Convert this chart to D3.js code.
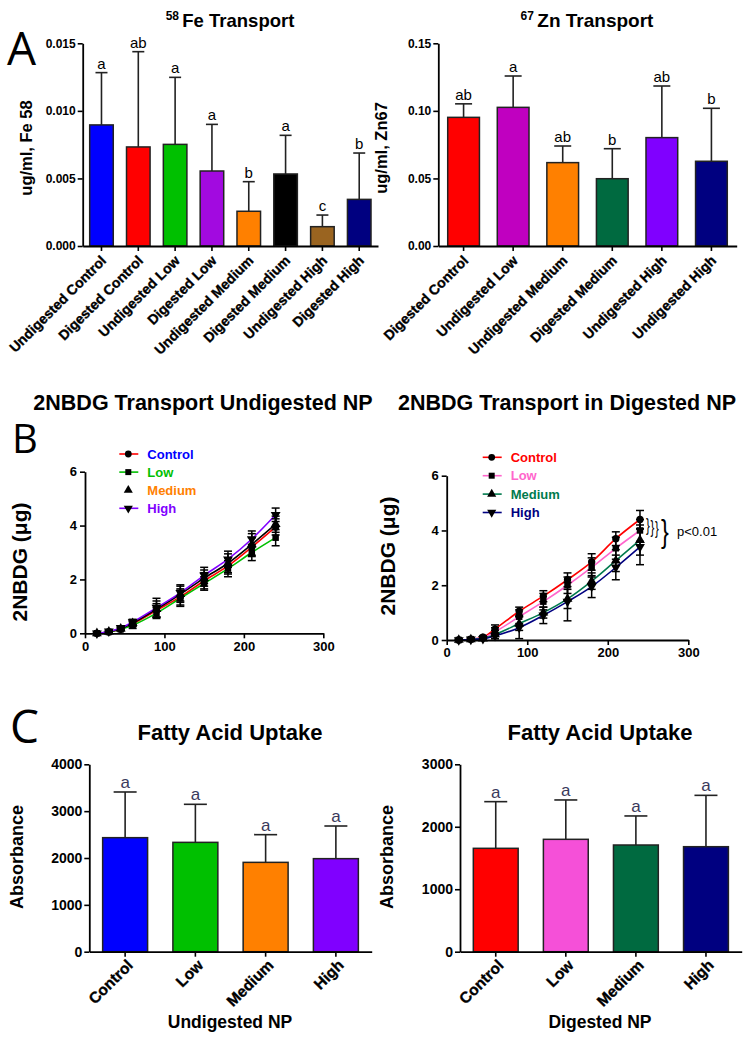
<!DOCTYPE html>
<html>
<head>
<meta charset="utf-8">
<script src="https://cdn.jsdelivr.net/npm/d3@7"></script>
<style>
  body { margin: 0; background: #fff; }
  svg { display: block; }
</style>
</head>
<body>
<div id="fig"></div>
<script>
const W = 747, H = 1040;
const FONT = '"Liberation Sans", Arial, sans-serif';

// ---- Panel A: 58Fe transport ----
const feCats = ["Undigested Control", "Digested Control", "Undigested Low", "Digested Low",
  "Undigested Medium", "Digested Medium", "Undigested High", "Digested High"];
const feMeans = [0.00896, 0.00733, 0.00752, 0.00555, 0.00257, 0.00533, 0.00143, 0.00345];
const feSD = [0.00387, 0.00705, 0.00496, 0.00345, 0.00219, 0.00286, 0.00086, 0.00343];
const feLetters = ["a", "ab", "a", "a", "b", "a", "c", "b"];
const feColors = ["#0000ff", "#ff0000", "#00c000", "#a20ae0", "#ff8000", "#000000", "#9a6420", "#000080"];
const feTicks = [0, 0.005, 0.010, 0.015];

// ---- Panel A: 67Zn transport ----
const znCats = ["Digested Control", "Undigested Low", "Undigested Medium", "Digested Medium",
  "Undigested High", "Undigested High "];
const znMeans = [0.0952, 0.1026, 0.0617, 0.0498, 0.0802, 0.0627];
const znSD = [0.0100, 0.0232, 0.0123, 0.0222, 0.0382, 0.0392];
const znLetters = ["ab", "a", "ab", "b", "ab", "b"];
const znColors = ["#ff0000", "#c000c0", "#ff8000", "#006a40", "#8000ff", "#000080"];
const znTicks = [0, 0.05, 0.10, 0.15];

// ---- Panel B: 2NBDG over time ----
const times = [15, 30, 45, 60, 90, 120, 150, 180, 210, 240];
const undCtrl = [0, 0.05, 0.15, 0.35, 0.85, 1.35, 1.95, 2.5, 3.2, 3.95];
const undCtrlSD = [0.02, 0.03, 0.05, 0.1, 0.25, 0.3, 0.3, 0.3, 0.35, 0.3];
const undLow = [0, 0.05, 0.15, 0.3, 0.75, 1.3, 1.85, 2.4, 3.0, 3.55];
const undLowSD = [0.02, 0.03, 0.05, 0.12, 0.2, 0.3, 0.25, 0.3, 0.3, 0.3];
const undMed = [0, 0.06, 0.17, 0.38, 0.9, 1.45, 2.05, 2.6, 3.3, 4.05];
const undMedSD = [0.02, 0.03, 0.06, 0.12, 0.3, 0.3, 0.3, 0.35, 0.4, 0.3];
const undHigh = [0, 0.07, 0.2, 0.42, 0.95, 1.5, 2.15, 2.75, 3.5, 4.4];
const undHighSD = [0.02, 0.03, 0.05, 0.1, 0.35, 0.3, 0.3, 0.3, 0.3, 0.25];

const digCtrl = [0, 0.03, 0.1, 0.4, 1.05, 1.6, 2.2, 2.85, 3.7, 4.4];
const digCtrlSD = [0.02, 0.03, 0.05, 0.15, 0.15, 0.2, 0.25, 0.3, 0.25, 0.33];
const digLow = [0, 0.03, 0.08, 0.3, 0.85, 1.4, 2.0, 2.65, 3.35, 4.0];
const digLowSD = [0.02, 0.03, 0.05, 0.15, 0.25, 0.3, 0.3, 0.35, 0.4, 0.4];
const digMed = [0, 0.02, 0.05, 0.2, 0.6, 1.0, 1.5, 2.15, 2.9, 3.65];
const digMedSD = [0.02, 0.03, 0.05, 0.15, 0.25, 0.2, 0.35, 0.3, 0.4, 0.55];
const digHigh = [0, 0.02, 0.04, 0.15, 0.45, 0.9, 1.4, 1.95, 2.65, 3.4];
const digHighSD = [0.02, 0.03, 0.05, 0.1, 0.4, 0.3, 0.7, 0.4, 0.45, 0.65];

const groupNames = ["Control", "Low", "Medium", "High"];
const bTicksX = [0, 100, 200, 300];
const bTicksY = [0, 2, 4, 6];

// ---- Panel C: fatty acid uptake ----
const faCats = ["Control", "Low", "Medium", "High"];
const faUndMeans = [2434, 2334, 1907, 1986];
const faUndSD = [975, 812, 591, 697];
const faDigMeans = [1655, 1799, 1708, 1681];
const faDigSD = [747, 630, 465, 822];
const faLetters = ["a", "a", "a", "a"];
const faUndColors = ["#0000ff", "#00c000", "#ff8000", "#8000ff"];
const faDigColors = ["#ff0000", "#f550d8", "#006a40", "#000080"];

const svg = d3.select("#fig").append("svg")
  .attr("width", W).attr("height", H)
  .style("font-family", FONT);
svg.append("rect").attr("width", W).attr("height", H).attr("fill", "#fff");

function styleAxis(g, fs) {
  g.attr("font-family", FONT).attr("font-size", fs);
  g.select(".domain").attr("stroke", "#000").attr("stroke-width", 1.8);
  g.selectAll(".tick line").attr("stroke", "#000").attr("stroke-width", 1.6);
  g.selectAll(".tick text").attr("font-size", fs).attr("font-weight", "bold").attr("fill", "#000");
}

function addText(x, y, str, size, opts = {}) {
  return svg.append("text")
    .attr("x", x).attr("y", y)
    .attr("font-size", size)
    .attr("font-weight", opts.weight || "bold")
    .attr("text-anchor", opts.anchor || "middle")
    .attr("fill", opts.fill || "#000")
    .attr("font-family", opts.family || FONT)
    .text(str);
}

function yLabel(x, y, str, size) {
  svg.append("text")
    .attr("transform", `translate(${x},${y}) rotate(-90)`)
    .attr("text-anchor", "middle")
    .attr("font-size", size).attr("font-weight", "bold")
    .text(str);
}

// generic bar chart with upward SD bars and significance letters
function barPanel(c) {
  const x = d3.scaleBand().domain(c.cats).range([c.x0, c.x1]).paddingInner(0.36).paddingOuter(0.19);
  const y = d3.scaleLinear().domain([0, c.ymax]).range([c.yBot, c.yTop]);
  const g = svg.append("g");

  const rows = c.cats.map((k, i) => ({ k, m: c.means[i], sd: c.sd[i], col: c.colors[i], lt: c.letters[i] }));

  // error bars
  g.selectAll(".eb").data(rows).enter().append("line")
    .attr("x1", d => x(d.k) + x.bandwidth() / 2).attr("x2", d => x(d.k) + x.bandwidth() / 2)
    .attr("y1", d => y(d.m)).attr("y2", d => y(d.m + d.sd))
    .attr("stroke", "#222").attr("stroke-width", 1.6);
  g.selectAll(".cap").data(rows).enter().append("line")
    .attr("x1", d => x(d.k) + x.bandwidth() / 2 - c.capW / 2)
    .attr("x2", d => x(d.k) + x.bandwidth() / 2 + c.capW / 2)
    .attr("y1", d => y(d.m + d.sd)).attr("y2", d => y(d.m + d.sd))
    .attr("stroke", "#222").attr("stroke-width", 1.6);

  g.selectAll(".bar").data(rows).enter().append("rect")
    .attr("x", d => x(d.k)).attr("width", x.bandwidth())
    .attr("y", d => y(d.m)).attr("height", d => y(0) - y(d.m))
    .attr("fill", d => d.col).attr("stroke", "#222").attr("stroke-width", 1.5);

  g.selectAll(".lt").data(rows).enter().append("text")
    .attr("x", d => x(d.k) + x.bandwidth() / 2)
    .attr("y", d => y(d.m + d.sd) - 4)
    .attr("text-anchor", "middle")
    .attr("font-size", c.letterSize).attr("fill", c.letterColor)
    .text(d => d.lt);

  const ya = svg.append("g").attr("transform", `translate(${c.x0},0)`)
    .call(d3.axisLeft(y).tickValues(c.ticks).tickFormat(c.fmt).tickSize(5).tickSizeOuter(0).tickPadding(2));
  styleAxis(ya, c.tickFont);

  const xa = svg.append("g").attr("transform", `translate(0,${c.yBot})`)
    .call(d3.axisBottom(x).tickSize(5).tickSizeOuter(0));
  styleAxis(xa, c.labelFont);
  xa.selectAll(".tick text")
    .text(d => d.trim())
    .attr("transform", "rotate(-45)")
    .attr("text-anchor", "end")
    .attr("stroke", "#000").attr("stroke-width", 0.35)
    .attr("x", c.lx).attr("y", c.ly).attr("dy", "0.35em");
}

// generic time course line chart with SD bars and symbols
function linePanel(c) {
  const x = d3.scaleLinear().domain([0, 300]).range([c.x0, c.x1]);
  const y = d3.scaleLinear().domain([0, 6]).range([c.yBot, c.yTop]);
  const g = svg.append("g");
  const line = d3.line().x((d, i) => x(times[i])).y(d => y(d)).curve(d3.curveMonotoneX);

  c.series.forEach(s => {
    g.append("path").datum(s.mean).attr("d", line)
      .attr("fill", "none").attr("stroke", s.color).attr("stroke-width", 1.6);
  });
  c.series.forEach(s => {
    const pts = times.map((t, i) => ({ t, m: s.mean[i], sd: s.sd[i] }));
    const eg = g.append("g").attr("stroke", "#000").attr("stroke-width", 1.5);
    pts.forEach(p => {
      const cx = x(p.t);
      eg.append("line").attr("x1", cx).attr("x2", cx)
        .attr("y1", y(Math.max(0, p.m - p.sd))).attr("y2", y(p.m + p.sd));
      [p.m - p.sd, p.m + p.sd].forEach(v => {
        if (v < 0) return;
        eg.append("line").attr("x1", cx - 4).attr("x2", cx + 4).attr("y1", y(v)).attr("y2", y(v));
      });
    });
    g.selectAll(null).data(pts).enter().append("path")
      .attr("d", d3.symbol().type(s.sym).size(42))
      .attr("transform", d => `translate(${x(d.t)},${y(d.m)}) rotate(${s.flip ? 180 : 0})`)
      .attr("fill", "#000");
  });

  const ya = svg.append("g").attr("transform", `translate(${c.x0},0)`)
    .call(d3.axisLeft(y).tickValues(bTicksY).tickFormat(d3.format("d")).tickSize(5).tickSizeOuter(0).tickPadding(3));
  styleAxis(ya, 13);
  const xa = svg.append("g").attr("transform", `translate(0,${c.yBot})`)
    .call(d3.axisBottom(x).tickValues(bTicksX).tickFormat(d3.format("d")).tickSize(5).tickSizeOuter(0).tickPadding(3));
  styleAxis(xa, 13);

  // legend
  c.series.forEach((s, i) => {
    const ly = c.legY + i * c.legStep;
    if (s.legendLine) {
      svg.append("line").attr("x1", c.legX - 9).attr("x2", c.legX + 10)
        .attr("y1", ly).attr("y2", ly).attr("stroke", s.color).attr("stroke-width", 1.6);
    }
    svg.append("path").attr("d", d3.symbol().type(s.sym).size(36))
      .attr("transform", `translate(${c.legX},${ly}) rotate(${s.flip ? 180 : 0})`).attr("fill", "#000");
    svg.append("text").attr("x", c.legX + 19).attr("y", ly).attr("dy", "0.36em")
      .attr("font-size", 13).attr("font-weight", "bold").attr("fill", s.text)
      .text(groupNames[i]);
  });
}

// ---------- Panel A ----------
addText(7, 65, "A", 46, { anchor: "start", weight: "normal", family: '"Open Sans", sans-serif' });

const feTitle = svg.append("text").attr("x", 230).attr("y", 27).attr("text-anchor", "middle")
  .attr("font-weight", "bold").attr("font-size", 18.5);
feTitle.append("tspan").attr("font-size", 12).attr("dy", -7).text("58 ");
feTitle.append("tspan").attr("dy", 7).text("Fe Transport");

const znTitle = svg.append("text").attr("x", 587).attr("y", 27).attr("text-anchor", "middle")
  .attr("font-weight", "bold").attr("font-size", 19);
znTitle.append("tspan").attr("font-size", 12).attr("dy", -7).text("67 ");
znTitle.append("tspan").attr("dy", 7).text("Zn Transport");

yLabel(32, 148, "ug/ml, Fe 58", 16.5);
yLabel(387, 148, "ug/ml, Zn67", 16.5);

barPanel({
  cats: feCats, means: feMeans, sd: feSD, letters: feLetters, colors: feColors,
  ticks: feTicks, fmt: d3.format(".3f"), ymax: 0.015,
  x0: 82.7, x1: 378, yTop: 43.3, yBot: 246, capW: 12, lx: -7, ly: 10,
  letterSize: 15, letterColor: "#000", tickFont: 12, labelFont: 14
});
barPanel({
  cats: znCats, means: znMeans, sd: znSD, letters: znLetters, colors: znColors,
  ticks: znTicks, fmt: d3.format(".2f"), ymax: 0.15,
  x0: 438.3, x1: 736.7, yTop: 43.3, yBot: 246, capW: 17, lx: -7, ly: 10,
  letterSize: 15, letterColor: "#000", tickFont: 12, labelFont: 14
});

// ---------- Panel B ----------
addText(12, 453, "B", 40, { anchor: "start", weight: "normal", family: '"Open Sans", sans-serif' });
addText(203, 410, "2NBDG Transport Undigested NP", 21.5);
addText(567, 410, "2NBDG Transport in Digested NP", 21.5);
yLabel(27, 562, "2NBDG (\u03BCg)", 21);
yLabel(395, 556, "2NBDG (\u03BCg)", 21);

linePanel({
  x0: 85, x1: 323.3, yTop: 471.7, yBot: 633.3, legX: 128.3, legY: 454, legStep: 18.1,
  series: [
    { mean: undCtrl, sd: undCtrlSD, color: "#ff0000", text: "#0000ff", sym: d3.symbolCircle, legendLine: true },
    { mean: undLow, sd: undLowSD, color: "#00c000", text: "#00c000", sym: d3.symbolSquare, legendLine: true },
    { mean: undMed, sd: undMedSD, color: "#000000", text: "#ff8000", sym: d3.symbolTriangle, legendLine: false },
    { mean: undHigh, sd: undHighSD, color: "#8000ff", text: "#8000ff", sym: d3.symbolTriangle, flip: true, legendLine: true }
  ]
});
linePanel({
  x0: 446.7, x1: 688.3, yTop: 475.7, yBot: 640, legX: 491.7, legY: 457.3, legStep: 18.4,
  series: [
    { mean: digCtrl, sd: digCtrlSD, color: "#ff0000", text: "#ff0000", sym: d3.symbolCircle, legendLine: true },
    { mean: digLow, sd: digLowSD, color: "#ff66cc", text: "#ff66cc", sym: d3.symbolSquare, legendLine: true },
    { mean: digMed, sd: digMedSD, color: "#007a4d", text: "#007a4d", sym: d3.symbolTriangle, legendLine: true },
    { mean: digHigh, sd: digHighSD, color: "#000080", text: "#000080", sym: d3.symbolTriangle, flip: true, legendLine: true }
  ]
});

// significance braces: three narrow pairwise braces and one spanning brace
[646, 650.5, 655].forEach((bx, i) => {
  svg.append("text")
    .attr("transform", `translate(${bx},${531 + i * 1.5}) scale(0.6,1)`)
    .attr("font-size", 19).attr("font-weight", "normal").text("}");
});
svg.append("text")
  .attr("transform", "translate(661,542) scale(0.75,1)")
  .attr("font-size", 31).attr("font-weight", "normal").text("}");
addText(677, 536, "p<0.01", 13, { anchor: "start", weight: "normal" });

// ---------- Panel C ----------
addText(10, 743, "C", 46, { anchor: "start", weight: "normal", family: '"Open Sans", sans-serif' });
addText(230, 740, "Fatty Acid Uptake", 22);
addText(600, 740, "Fatty Acid Uptake", 22);
yLabel(23, 857, "Absorbance", 18);
yLabel(393, 857, "Absorbance", 18);
addText(230, 1028, "Undigested NP", 17.5);
addText(600, 1028, "Digested NP", 17.5);

barPanel({
  cats: faCats, means: faUndMeans, sd: faUndSD, letters: faLetters, colors: faUndColors,
  ticks: [0, 1000, 2000, 3000, 4000], fmt: d3.format("d"), ymax: 4000,
  x0: 89.3, x1: 371.7, yTop: 764.3, yBot: 951.7, capW: 23, lx: -4, ly: 11,
  letterSize: 17, letterColor: "#3a3a5c", tickFont: 14, labelFont: 15.5
});
barPanel({
  cats: faCats, means: faDigMeans, sd: faDigSD, letters: faLetters, colors: faDigColors,
  ticks: [0, 1000, 2000, 3000], fmt: d3.format("d"), ymax: 3000,
  x0: 460, x1: 741.7, yTop: 764.3, yBot: 951.7, capW: 23, lx: -4, ly: 11,
  letterSize: 17, letterColor: "#3a3a5c", tickFont: 14, labelFont: 15.5
});
</script>
</body>
</html>
